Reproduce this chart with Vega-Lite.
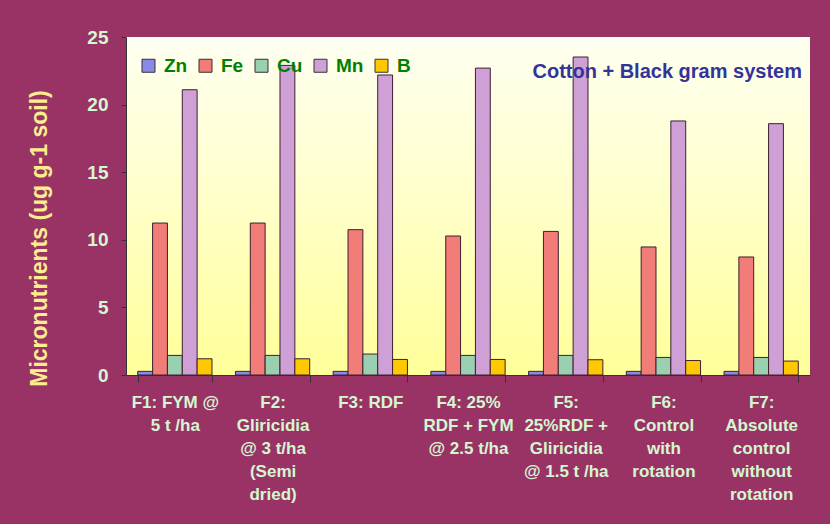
{
  "$schema": "https://vega.github.io/schema/vega-lite/v6.json",
  "width": 830,
  "height": 524,
  "autosize": {"type": "fit", "contains": "padding"},
  "padding": {"left": 28, "top": 28, "right": 20, "bottom": 22},
  "background": "#993366",
  "config": {
    "view": {
      "stroke": null,
      "fill": {
        "gradient": "linear",
        "x1": 0, "y1": 0, "x2": 0, "y2": 1,
        "stops": [
          {"offset": 0, "color": "#FFFFF2"},
          {"offset": 0.5, "color": "#FFFFC8"},
          {"offset": 1, "color": "#FFFF99"}
        ]
      }
    },
    "font": "Liberation Sans"
  },
  "layer": [
    {
      "data": {
        "values": [
          {"treatment": "F1: FYM @\n5 t /ha", "nutrient": "Zn", "value": 0.27},
          {"treatment": "F1: FYM @\n5 t /ha", "nutrient": "Fe", "value": 11.24},
          {"treatment": "F1: FYM @\n5 t /ha", "nutrient": "Cu", "value": 1.45},
          {"treatment": "F1: FYM @\n5 t /ha", "nutrient": "Mn", "value": 21.1},
          {"treatment": "F1: FYM @\n5 t /ha", "nutrient": "B", "value": 1.2},
          {"treatment": "F2:\nGliricidia\n@ 3 t/ha\n(Semi\ndried)", "nutrient": "Zn", "value": 0.27},
          {"treatment": "F2:\nGliricidia\n@ 3 t/ha\n(Semi\ndried)", "nutrient": "Fe", "value": 11.24},
          {"treatment": "F2:\nGliricidia\n@ 3 t/ha\n(Semi\ndried)", "nutrient": "Cu", "value": 1.45},
          {"treatment": "F2:\nGliricidia\n@ 3 t/ha\n(Semi\ndried)", "nutrient": "Mn", "value": 22.9},
          {"treatment": "F2:\nGliricidia\n@ 3 t/ha\n(Semi\ndried)", "nutrient": "B", "value": 1.2},
          {"treatment": "F3: RDF", "nutrient": "Zn", "value": 0.27},
          {"treatment": "F3: RDF", "nutrient": "Fe", "value": 10.75},
          {"treatment": "F3: RDF", "nutrient": "Cu", "value": 1.55},
          {"treatment": "F3: RDF", "nutrient": "Mn", "value": 22.19},
          {"treatment": "F3: RDF", "nutrient": "B", "value": 1.15},
          {"treatment": "F4: 25%\nRDF + FYM\n@ 2.5 t/ha", "nutrient": "Zn", "value": 0.27},
          {"treatment": "F4: 25%\nRDF + FYM\n@ 2.5 t/ha", "nutrient": "Fe", "value": 10.28},
          {"treatment": "F4: 25%\nRDF + FYM\n@ 2.5 t/ha", "nutrient": "Cu", "value": 1.45},
          {"treatment": "F4: 25%\nRDF + FYM\n@ 2.5 t/ha", "nutrient": "Mn", "value": 22.7},
          {"treatment": "F4: 25%\nRDF + FYM\n@ 2.5 t/ha", "nutrient": "B", "value": 1.15},
          {"treatment": "F5:\n25%RDF +\nGliricidia\n@ 1.5 t /ha", "nutrient": "Zn", "value": 0.27},
          {"treatment": "F5:\n25%RDF +\nGliricidia\n@ 1.5 t /ha", "nutrient": "Fe", "value": 10.62},
          {"treatment": "F5:\n25%RDF +\nGliricidia\n@ 1.5 t /ha", "nutrient": "Cu", "value": 1.45},
          {"treatment": "F5:\n25%RDF +\nGliricidia\n@ 1.5 t /ha", "nutrient": "Mn", "value": 23.52},
          {"treatment": "F5:\n25%RDF +\nGliricidia\n@ 1.5 t /ha", "nutrient": "B", "value": 1.13},
          {"treatment": "F6:\nControl\nwith\nrotation", "nutrient": "Zn", "value": 0.27},
          {"treatment": "F6:\nControl\nwith\nrotation", "nutrient": "Fe", "value": 9.47},
          {"treatment": "F6:\nControl\nwith\nrotation", "nutrient": "Cu", "value": 1.3},
          {"treatment": "F6:\nControl\nwith\nrotation", "nutrient": "Mn", "value": 18.79},
          {"treatment": "F6:\nControl\nwith\nrotation", "nutrient": "B", "value": 1.07},
          {"treatment": "F7:\nAbsolute\ncontrol\nwithout\nrotation", "nutrient": "Zn", "value": 0.27},
          {"treatment": "F7:\nAbsolute\ncontrol\nwithout\nrotation", "nutrient": "Fe", "value": 8.73},
          {"treatment": "F7:\nAbsolute\ncontrol\nwithout\nrotation", "nutrient": "Cu", "value": 1.3},
          {"treatment": "F7:\nAbsolute\ncontrol\nwithout\nrotation", "nutrient": "Mn", "value": 18.59},
          {"treatment": "F7:\nAbsolute\ncontrol\nwithout\nrotation", "nutrient": "B", "value": 1.03}
        ]
      },
      "mark": {"type": "bar", "stroke": "#3A2030", "strokeWidth": 1},
      "encoding": {
        "x": {
          "field": "treatment",
          "type": "nominal",
          "sort": null,
          "scale": {"paddingInner": 0.24, "paddingOuter": 0.12},
          "axis": {
            "title": null,
            "labelAngle": 0,
            "labelExpr": "split(datum.label, '\\n')",
            "labelFont": "Liberation Sans",
            "labelFontSize": 17,
            "labelFontWeight": "bold",
            "labelColor": "#D4F7D0",
            "labelLineHeight": 23,
            "labelPadding": 12,
            "labelLimit": 0,
            "domainColor": "#333333",
            "tickColor": "#333333",
            "tickSize": 7,
            "tickBand": "extent"
          }
        },
        "xOffset": {
          "field": "nutrient",
          "type": "nominal",
          "sort": ["Zn", "Fe", "Cu", "Mn", "B"],
          "scale": {"paddingInner": 0, "paddingOuter": 0}
        },
        "y": {
          "field": "value",
          "type": "quantitative",
          "scale": {"domain": [0, 25], "nice": false},
          "axis": {
            "title": "Micronutrients (ug g-1 soil)",
            "titleFont": "Liberation Sans",
            "titleFontSize": 23,
            "titleFontWeight": "bold",
            "titleColor": "#FCEE8E",
            "titlePadding": 35,
            "titleY": 201,
            "values": [0, 5, 10, 15, 20, 25],
            "grid": false,
            "labelFont": "Liberation Sans",
            "labelFontSize": 19,
            "labelFontWeight": "bold",
            "labelColor": "#D4F7D0",
            "labelPadding": 13,
            "domainColor": "#333333",
            "tickColor": "#333333",
            "tickSize": 5
          }
        },
        "color": {
          "field": "nutrient",
          "type": "nominal",
          "scale": {
            "domain": ["Zn", "Fe", "Cu", "Mn", "B"],
            "range": ["#8A8AE6", "#F27C78", "#9ACFB0", "#CFA0D6", "#FFC800"]
          },
          "legend": {
            "title": null,
            "orient": "none",
            "legendX": 13,
            "legendY": 19,
            "direction": "horizontal",
            "symbolType": "square",
            "symbolSize": 169,
            "symbolStrokeColor": "#333333",
            "symbolStrokeWidth": 1,
            "symbolOpacity": 1,
            "labelFont": "Liberation Sans",
            "labelFontSize": 19,
            "labelFontWeight": "bold",
            "labelColor": "#008000",
            "labelOffset": 6,
            "columnPadding": 8
          }
        }
      }
    },
    {
      "data": {"values": [{"caption": "Cotton + Black gram system", "level": 22}]},
      "mark": {
        "type": "text",
        "align": "right",
        "baseline": "alphabetic",
        "dx": -8,
        "font": "Liberation Sans",
        "fontSize": 20,
        "fontWeight": "bold",
        "color": "#333399"
      },
      "encoding": {
        "x": {"value": "width"},
        "y": {"field": "level", "type": "quantitative"},
        "text": {"field": "caption"}
      }
    }
  ]
}
